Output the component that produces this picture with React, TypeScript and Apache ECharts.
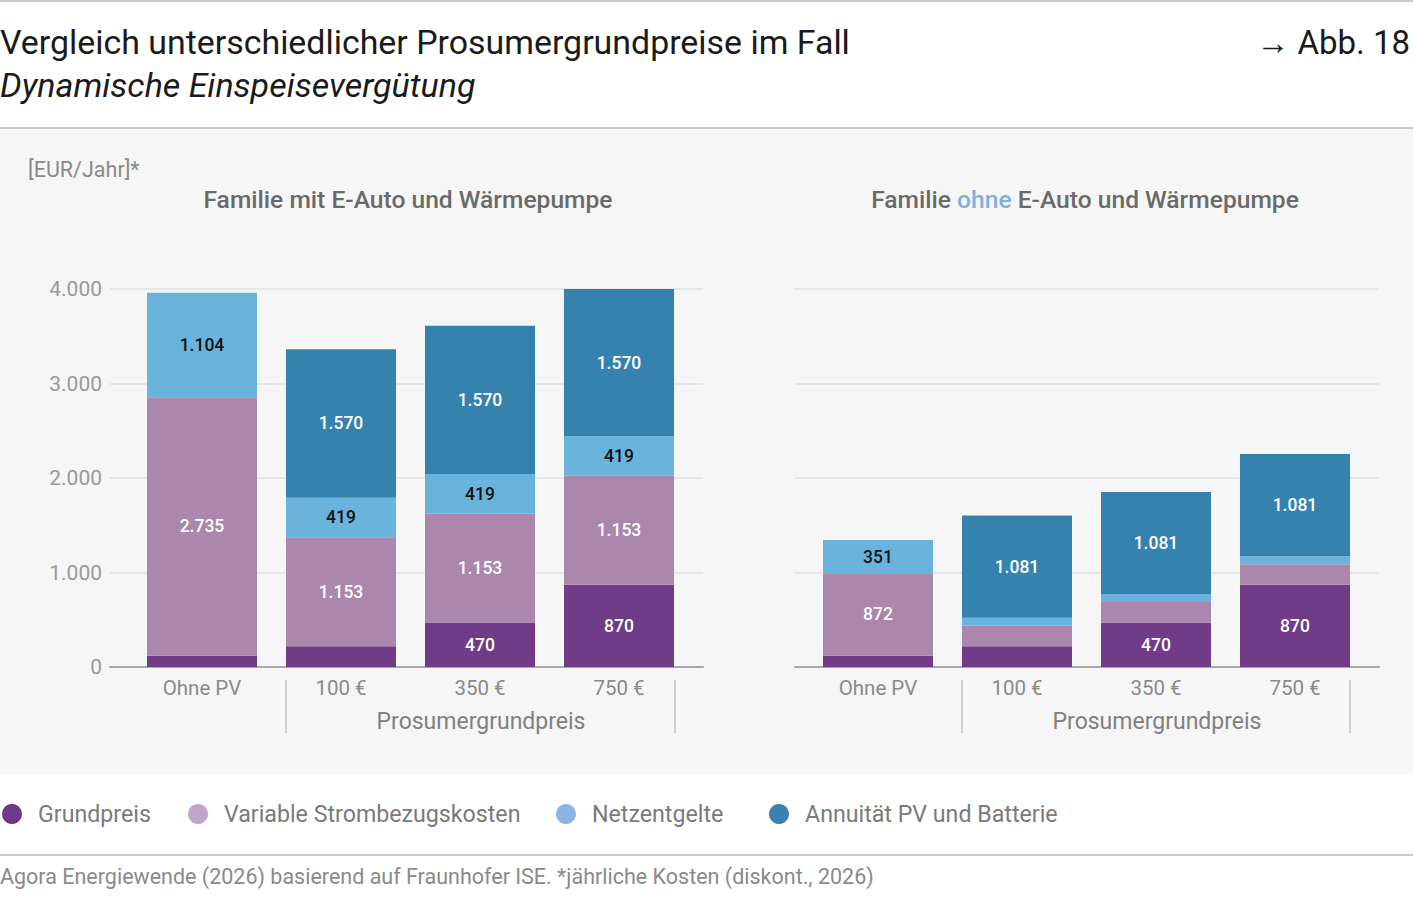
import React, { useEffect, useRef } from "react";
import * as echarts from "echarts";

// Categories along the x axis of both panels
const categories = ["Ohne PV", "100 €", "350 €", "750 €"];
const seriesNames = [
  "Grundpreis",
  "Variable Strombezugskosten",
  "Netzentgelte",
  "Annuität PV und Batterie",
];

// Familie mit E-Auto und Wärmepumpe [EUR/Jahr]
const mitGrundpreis = [120, 220, 470, 870];
const mitVariabel = [2735, 1153, 1153, 1153];
const mitNetz = [1104, 419, 419, 419];
const mitAnnuitaet = [0, 1570, 1570, 1570];

// Familie ohne E-Auto und Wärmepumpe [EUR/Jahr]
const ohneGrundpreis = [120, 220, 470, 870];
const ohneVariabel = [872, 217, 217, 217];
const ohneNetz = [351, 85, 85, 85];
const ohneAnnuitaet = [0, 1081, 1081, 1081];

const yMax = 4000;
const yStep = 1000;

const barColors = ["#703c87", "#ab86ad", "#6ab3dd", "#3682ae"];
const legendColors = ["#6e3a85", "#c1a6cb", "#8db5e2", "#3b83ae"];
const labelColors = ["#ffffff", "#ffffff", "#111111", "#ffffff"];

const FONT = "Roboto, 'Noto Sans', sans-serif";

const fmt = (v: number) =>
  String(Math.round(v)).replace(/\B(?=(\d{3})+(?!\d))/g, ".");

const GRID_TOP = 289;
const GRID_H = 378;

function txt(
  text: string,
  x: number,
  y: number,
  size: number,
  fill: string,
  align: string = "left",
  extra: Record<string, any> = {}
) {
  return {
    type: "text",
    x,
    y,
    silent: true,
    style: {
      text,
      fontSize: size,
      fontFamily: FONT,
      fill,
      textAlign: align,
      align,
      textVerticalAlign: "middle",
      verticalAlign: "middle",
      ...extra,
    },
  };
}

function hline(x1: number, x2: number, y: number, color = "#c8c8c8", w = 2) {
  return {
    type: "line",
    silent: true,
    shape: { x1, y1: y, x2, y2: y },
    style: { stroke: color, lineWidth: w },
  };
}

function vline(x: number, y1: number, y2: number, color = "#cfcfcf", w = 2) {
  return {
    type: "line",
    silent: true,
    shape: { x1: x, y1, x2: x, y2 },
    style: { stroke: color, lineWidth: w },
  };
}

function buildOption() {
  const grids = [
    { left: 110, top: GRID_TOP, width: 593, height: GRID_H },
    { left: 132.5, top: GRID_TOP, width: 556, height: GRID_H },
    { left: 795, top: GRID_TOP, width: 584, height: GRID_H },
    { left: 808.5, top: GRID_TOP, width: 556, height: GRID_H },
  ];

  const bgX = (gridIndex: number) => ({
    type: "value",
    gridIndex,
    min: 0,
    max: 1,
    axisLine: { show: true, onZero: true, lineStyle: { color: "#a8a8a8", width: 2 } },
    axisTick: { show: false },
    axisLabel: { show: false },
    splitLine: { show: false },
  });
  const barX = (gridIndex: number) => ({
    type: "category",
    gridIndex,
    data: categories,
    axisLine: { show: false },
    axisTick: { show: false },
    axisLabel: {
      show: true,
      margin: 10,
      color: "#8a8a8a",
      fontSize: 20.5,
      fontFamily: FONT,
    },
  });
  const bgY = (gridIndex: number, showLabels: boolean) => ({
    type: "value",
    gridIndex,
    min: 0,
    max: yMax,
    interval: yStep,
    axisLine: { show: false },
    axisTick: { show: false },
    axisLabel: {
      show: showLabels,
      margin: 8,
      color: "#999999",
      fontSize: 21,
      fontFamily: FONT,
      formatter: (v: number) => fmt(v),
    },
    splitLine: { show: true, lineStyle: { color: "#e6e6e6", width: 2 } },
  });
  const barY = (gridIndex: number) => ({
    type: "value",
    gridIndex,
    min: 0,
    max: yMax,
    interval: yStep,
    show: false,
    splitLine: { show: false },
  });

  const mk = (
    idx: number,
    data: number[],
    axis: number,
    stack: string
  ) => ({
    type: "bar",
    name: seriesNames[idx],
    stack,
    xAxisIndex: axis,
    yAxisIndex: axis,
    barWidth: 110,
    data,
    itemStyle: { color: barColors[idx] },
    label: {
      show: true,
      position: "inside",
      color: labelColors[idx],
      fontSize: 17.5,
      fontWeight: 500,
      fontFamily: FONT,
      formatter: (p: any) => (p.value >= 300 ? fmt(p.value) : ""),
    },
  });

  const series = [
    mk(0, mitGrundpreis, 1, "mit"),
    mk(1, mitVariabel, 1, "mit"),
    mk(2, mitNetz, 1, "mit"),
    mk(3, mitAnnuitaet, 1, "mit"),
    mk(0, ohneGrundpreis, 3, "ohne"),
    mk(1, ohneVariabel, 3, "ohne"),
    mk(2, ohneNetz, 3, "ohne"),
    mk(3, ohneAnnuitaet, 3, "ohne"),
  ];

  // Legend: dot + label, laid out left to right
  const legendX = [12, 198, 566, 779];
  const legendEls: any[] = [];
  seriesNames.forEach((name, i) => {
    legendEls.push({
      type: "circle",
      silent: true,
      shape: { cx: legendX[i], cy: 814, r: 10 },
      style: { fill: legendColors[i] },
    });
    legendEls.push(txt(name, legendX[i] + 26, 814, 23.2, "#7a7a7a"));
  });

  const graphic = [
    {
      type: "rect",
      silent: true,
      z: -10,
      shape: { x: 0, y: 129, width: 1413, height: 645 },
      style: { fill: "#f6f6f6" },
    },
    hline(0, 1413, 1),
    hline(0, 1413, 128),
    hline(0, 1413, 855),
    txt("Vergleich unterschiedlicher Prosumergrundpreise im Fall", 0, 42, 33.9, "#1a1a1a"),
    txt("Dynamische Einspeisevergütung", 0, 85, 34, "#1a1a1a", "left", {
      fontStyle: "italic",
    }),
    txt("→ Abb. 18", 1410, 42, 33, "#1a1a1a", "right"),
    txt("[EUR/Jahr]*", 28, 169, 21.5, "#8a8a8a"),
    txt("Familie mit E-Auto und Wärmepumpe", 408, 199, 24.6, "#6a6a6a", "center", {
      fontWeight: 500,
    }),
    txt("Familie {b|ohne} E-Auto und Wärmepumpe", 1085, 199, 24.6, "#6a6a6a", "center", {
      fontWeight: 500,
      rich: {
        b: {
          fill: "#7eb0e0",
          color: "#7eb0e0",
          fontSize: 24.6,
          fontWeight: 500,
          fontFamily: FONT,
        },
      },
    }),
    vline(286, 680, 733),
    vline(675, 680, 733),
    vline(962, 680, 733),
    vline(1350, 680, 733),
    txt("Prosumergrundpreis", 481, 721, 23, "#808080", "center"),
    txt("Prosumergrundpreis", 1157, 721, 23, "#808080", "center"),
    ...legendEls,
    txt(
      "Agora Energiewende (2026) basierend auf Fraunhofer ISE. *jährliche Kosten (diskont., 2026)",
      0,
      876,
      21.5,
      "#8a8a8a"
    ),
  ];

  return {
    animation: false,
    backgroundColor: "#ffffff",
    textStyle: { fontFamily: FONT },
    grid: grids,
    xAxis: [bgX(0), barX(1), bgX(2), barX(3)],
    yAxis: [bgY(0, true), barY(1), bgY(2, false), barY(3)],
    series,
    graphic,
  };
}

export default function App() {
  const ref = useRef<HTMLDivElement>(null);
  useEffect(() => {
    if (!ref.current) return;
    const chart = echarts.init(ref.current, undefined, { renderer: "svg" });
    chart.setOption(buildOption() as any);
    return () => chart.dispose();
  }, []);
  return (
    <div
      ref={ref}
      style={{ position: "fixed", left: 0, top: 0, width: 1413, height: 900 }}
    />
  );
}
